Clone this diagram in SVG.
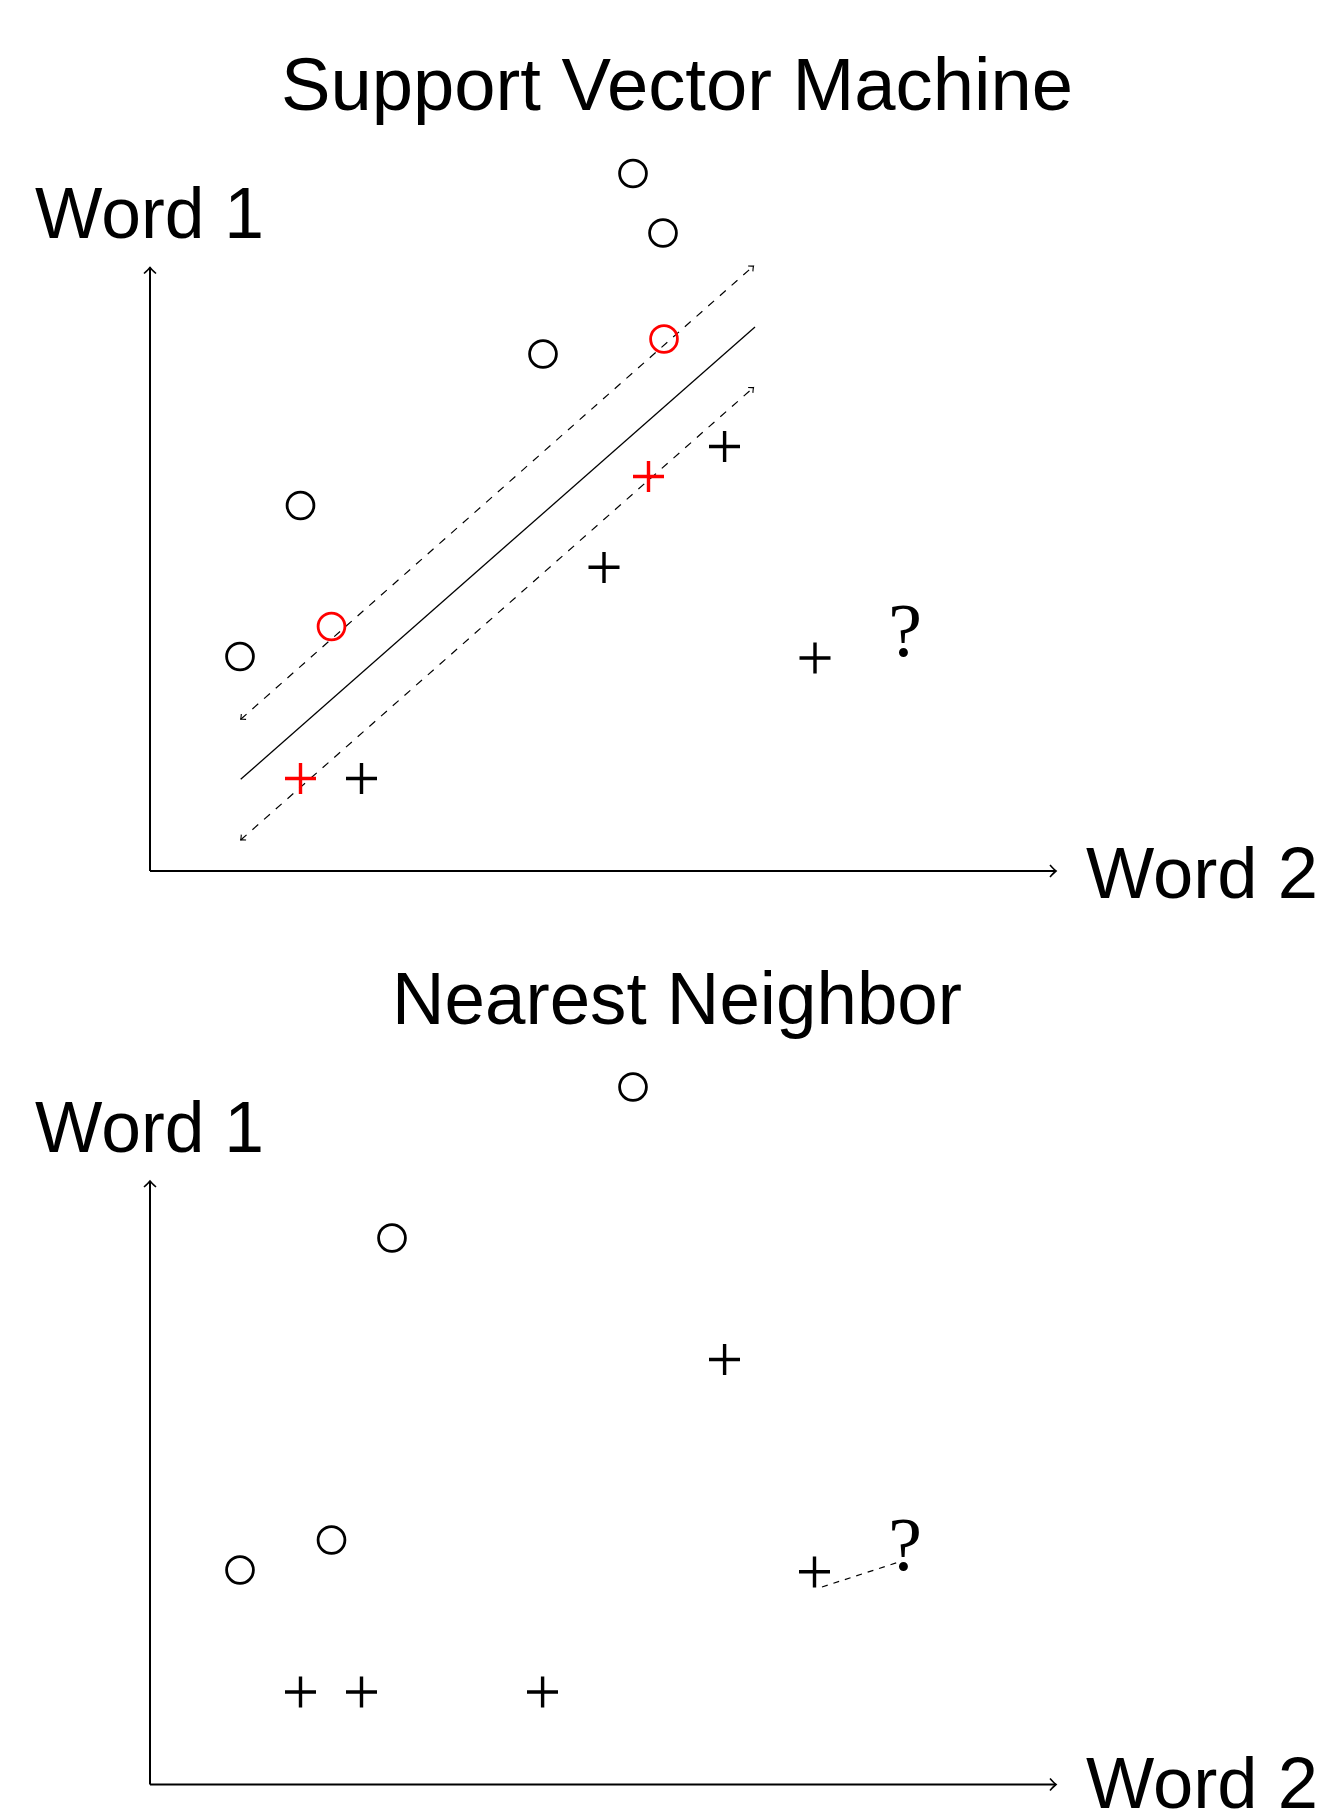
<svg xmlns="http://www.w3.org/2000/svg" width="1324" height="1818" viewBox="0 0 1324 1818">
<style>
.lbl{font-family:"Liberation Sans",Arial,sans-serif;font-size:72px;fill:#000}
.ttl{font-family:"Liberation Sans",Arial,sans-serif;font-size:74px;fill:#000}
.q{font-family:"Liberation Serif","Times New Roman",serif;font-size:76px;fill:#000}
.axis{stroke:#000;stroke-width:2;fill:none}
.sep{stroke:#000;stroke-width:1.3;fill:none}
.dash{stroke:#000;stroke-width:1.2;fill:none;stroke-dasharray:7.8 7.8}
.dash2{stroke:#000;stroke-width:1.2;fill:none;stroke-dasharray:6 6}
.o{fill:none;stroke:#000;stroke-width:2.8}
.p{stroke:#000;stroke-width:3.4;fill:none}
.red{stroke:#ff0000}
</style>
<defs>
<marker id="ax" markerUnits="userSpaceOnUse" markerWidth="16" markerHeight="16" viewBox="-8 -8 16 16" refX="0" refY="0" orient="auto">
<path d="M -6 -6 Q -2 -1.5 0 0 Q -2 1.5 -6 6" fill="none" stroke="#000" stroke-width="1.6" stroke-dasharray="none"/>
</marker>
<marker id="sm" markerUnits="userSpaceOnUse" markerWidth="12" markerHeight="12" viewBox="-6 -6 12 12" refX="0" refY="0" orient="auto-start-reverse">
<path d="M -4 -3.6 Q -1.2 -0.8 0 0 Q -1.2 0.8 -4 3.6" fill="none" stroke="#000" stroke-width="1.1" stroke-dasharray="none"/>
</marker>
</defs>

<g id="svm-title"><text class="ttl" x="281" y="110" textLength="792" lengthAdjust="spacingAndGlyphs">Support Vector Machine</text></g>
<g id="svm-word1"><text class="lbl" x="35" y="238" textLength="229" lengthAdjust="spacingAndGlyphs">Word 1</text></g>
<g id="svm-word2"><text class="lbl" x="1086" y="898" textLength="232" lengthAdjust="spacingAndGlyphs">Word 2</text></g>

<g id="connectors">
<line class="axis" x1="150" y1="871" x2="150" y2="267.5" marker-end="url(#ax)"/>
<line class="axis" x1="150" y1="871" x2="1056" y2="871" marker-end="url(#ax)"/>
<line class="sep" x1="240.7" y1="779.3" x2="755" y2="327"/>
<line class="dash" x1="240.7" y1="719.3" x2="753.5" y2="266" marker-start="url(#sm)" marker-end="url(#sm)"/>
<line class="dash" x1="240.7" y1="840" x2="753.5" y2="387.5" marker-start="url(#sm)" marker-end="url(#sm)"/>

<line class="axis" x1="150" y1="1784.5" x2="150" y2="1181" marker-end="url(#ax)"/>
<line class="axis" x1="150" y1="1784.5" x2="1056" y2="1784.5" marker-end="url(#ax)"/>
<line class="dash2" x1="822" y1="1587" x2="902" y2="1561"/>
</g>

<g id="svm-points">
<circle class="o" cx="633" cy="173.5" r="13.4"/>
<circle class="o" cx="663" cy="233" r="13.4"/>
<circle class="o" cx="543" cy="354" r="13.4"/>
<circle class="o" cx="300.5" cy="505.5" r="13.4"/>
<circle class="o" cx="240" cy="656.5" r="13.4"/>
<circle class="o red" cx="664" cy="339" r="13.4"/>
<circle class="o red" cx="331.5" cy="626.5" r="13.4"/>
<path class="p" d="M709 446.5h31M724.6 431v31"/>
<path class="p" d="M588.5 567.3h31M604 552v31"/>
<path class="p" d="M799.5 658h31M815 642.5v31"/>
<path class="p" d="M346 778.5h31M361.5 763v31"/>
<path class="p red" d="M633 476.5h31M648.5 461v31"/>
<path class="p red" d="M285 778.5h31M300.5 763v31"/>
<text class="q" x="905" y="656" text-anchor="middle">?</text>
</g>

<g id="nn-title"><text class="ttl" x="392" y="1024" textLength="570" lengthAdjust="spacingAndGlyphs">Nearest Neighbor</text></g>
<g id="nn-word1"><text class="lbl" x="35" y="1152" textLength="229" lengthAdjust="spacingAndGlyphs">Word 1</text></g>
<g id="nn-word2"><text class="lbl" x="1086" y="1808" textLength="232" lengthAdjust="spacingAndGlyphs">Word 2</text></g>

<g id="nn-points">
<circle class="o" cx="633" cy="1087" r="13.4"/>
<circle class="o" cx="392" cy="1238" r="13.4"/>
<circle class="o" cx="331.5" cy="1540" r="13.4"/>
<circle class="o" cx="240" cy="1570" r="13.4"/>
<path class="p" d="M709 1359.5h31M724.6 1344v31"/>
<path class="p" d="M799 1571.7h31M814.5 1556.5v31"/>
<path class="p" d="M285 1692h31M300.5 1676.5v31"/>
<path class="p" d="M346 1692h31M361.5 1676.5v31"/>
<path class="p" d="M527 1692h31M542.6 1676.5v31"/>
<text class="q" x="905" y="1569.5" text-anchor="middle">?</text>
</g>
</svg>
